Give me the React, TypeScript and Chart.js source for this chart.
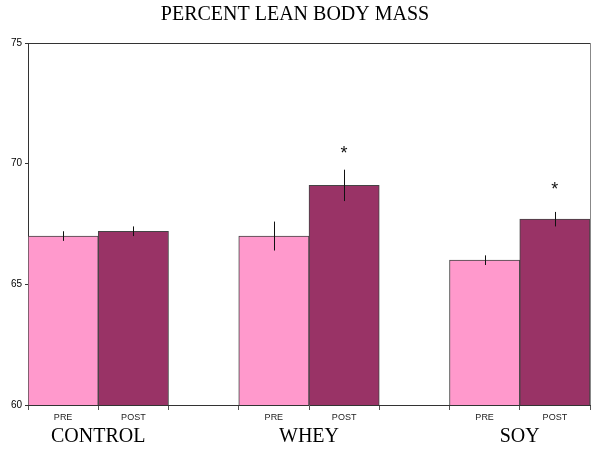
import { useEffect, useRef } from "react"
import { Chart, registerables } from "chart.js"
import type { Plugin } from "chart.js"

Chart.register(...registerables)

const groupNames = ["CONTROL", "WHEY", "SOY"]
const phaseLabels = ["PRE", "POST"]
const preMeans = [67.0, 67.0, 66.0]
const postMeans = [67.2, 69.1, 67.7]
const preErrors = [0.2, 0.6, 0.2]
const postErrors = [0.2, 0.65, 0.3]
// value where the "*" sits above a POST bar (null = not significant)
const postStars: (number | null)[] = [null, 70.5, 69.0]
const yTicks = [60, 65, 70, 75]

const preColor = "#FF99CC"
const postColor = "#993366"
const serif = "'Liberation Serif', 'Times New Roman', serif"
const sans = "'Liberation Sans', Arial, sans-serif"

// lay groups out as PRE, POST, gap, PRE, POST, gap, ...
const slotLabels: string[] = []
const slotMeans: (number | null)[] = []
const slotErrors: (number | null)[] = []
const slotStars: (number | null)[] = []
const slotColors: string[] = []
groupNames.forEach((_, g) => {
  if (g > 0) {
    slotLabels.push("")
    slotMeans.push(null)
    slotErrors.push(null)
    slotStars.push(null)
    slotColors.push("transparent")
  }
  slotLabels.push(phaseLabels[0], phaseLabels[1])
  slotMeans.push(preMeans[g], postMeans[g])
  slotErrors.push(preErrors[g], postErrors[g])
  slotStars.push(null, postStars[g])
  slotColors.push(preColor, postColor)
})

const errorBars: Plugin<"bar"> = {
  id: "errorBars",
  afterDatasetsDraw(chart) {
    const { ctx } = chart
    const y = chart.scales.y
    const meta = chart.getDatasetMeta(0)
    ctx.save()
    slotMeans.forEach((m, i) => {
      const err = slotErrors[i]
      if (m == null || err == null) return
      const x = Math.round(meta.data[i].x) + 0.5
      ctx.strokeStyle = "#111"
      ctx.lineWidth = 1
      ctx.beginPath()
      ctx.moveTo(x, y.getPixelForValue(m + err))
      ctx.lineTo(x, y.getPixelForValue(m - err))
      ctx.stroke()
      const star = slotStars[i]
      if (star != null) {
        ctx.fillStyle = "#111"
        ctx.font = `18px ${sans}`
        ctx.textAlign = "center"
        ctx.textBaseline = "alphabetic"
        ctx.fillText("*", meta.data[i].x, y.getPixelForValue(star) + 7)
      }
    })
    ctx.restore()
  },
}

const frame: Plugin<"bar"> = {
  id: "frame",
  afterDraw(chart) {
    const { ctx, chartArea } = chart
    ctx.save()
    ctx.lineWidth = 1
    ctx.strokeStyle = "#333"
    ctx.beginPath()
    ctx.moveTo(chartArea.left, Math.round(chartArea.top) + 0.5)
    ctx.lineTo(chartArea.right, Math.round(chartArea.top) + 0.5)
    ctx.stroke()
    ctx.strokeStyle = "#888"
    ctx.beginPath()
    ctx.moveTo(Math.round(chartArea.right) + 0.5, chartArea.top)
    ctx.lineTo(Math.round(chartArea.right) + 0.5, chartArea.bottom)
    ctx.stroke()
    ctx.restore()
  },
}

function LeanMassChart() {
  const chartRef = useRef<HTMLCanvasElement>(null)
  const chartInstance = useRef<Chart | null>(null)

  useEffect(() => {
    if (!chartRef.current) return
    if (chartInstance.current) chartInstance.current.destroy()

    chartInstance.current = new Chart(chartRef.current, {
      type: "bar",
      data: {
        labels: slotLabels,
        datasets: [
          {
            data: slotMeans,
            backgroundColor: slotColors,
            borderColor: "#444",
            borderWidth: 1,
            barPercentage: 1,
            categoryPercentage: 1,
          },
        ],
      },
      options: {
        animation: false,
        responsive: true,
        maintainAspectRatio: false,
        layout: { padding: { left: 0, right: 10, top: 0, bottom: 0 } },
        plugins: {
          legend: { display: false },
          tooltip: { enabled: false },
          title: {
            display: true,
            text: "PERCENT LEAN BODY MASS",
            color: "#000",
            font: { family: serif, size: 20, weight: "normal" },
            padding: { top: 3, bottom: 16 },
          },
        },
        scales: {
          x: {
            type: "category",
            position: "bottom",
            border: { color: "#333" },
            grid: { offset: true, drawOnChartArea: false, tickLength: 5, color: "#555" },
            ticks: {
              color: "#222",
              font: { family: sans, size: 9 },
              padding: 2,
              autoSkip: false,
              maxRotation: 0,
            },
            afterFit(axis) {
              axis.height = 19
            },
          },
          // second row of labels: group names centred between PRE and POST
          xGroup: {
            type: "linear",
            position: "bottom",
            offset: false,
            min: 0,
            max: slotLabels.length,
            border: { display: false },
            grid: { display: false, drawTicks: false, offset: false },
            afterBuildTicks(axis) {
              axis.ticks = groupNames.map((_, g) => ({ value: g * 3 + 1 }))
            },
            ticks: {
              color: "#000",
              font: { family: serif, size: 20 },
              padding: 1,
              autoSkip: false,
              maxRotation: 0,
              callback: (_v, index) => groupNames[index],
            },
            afterFit(axis) {
              axis.height = 26
            },
          },
          y: {
            min: yTicks[0],
            max: yTicks[yTicks.length - 1],
            border: { color: "#333" },
            grid: { drawOnChartArea: false, tickLength: 3, color: "#333" },
            afterBuildTicks(axis) {
              axis.ticks = yTicks.map((v) => ({ value: v }))
            },
            ticks: {
              color: "#000",
              font: { family: sans, size: 10 },
              padding: 3,
            },
            afterFit(axis) {
              axis.width = 28
            },
          },
        },
      },
      plugins: [errorBars, frame],
    })

    return () => {
      if (chartInstance.current) {
        chartInstance.current.destroy()
        chartInstance.current = null
      }
    }
  }, [])

  return (
    <div style={{ position: "fixed", left: 0, top: 0, width: 600, height: 450, background: "#fff" }}>
      <canvas ref={chartRef} />
    </div>
  )
}

export default function App() {
  return <LeanMassChart />
}
